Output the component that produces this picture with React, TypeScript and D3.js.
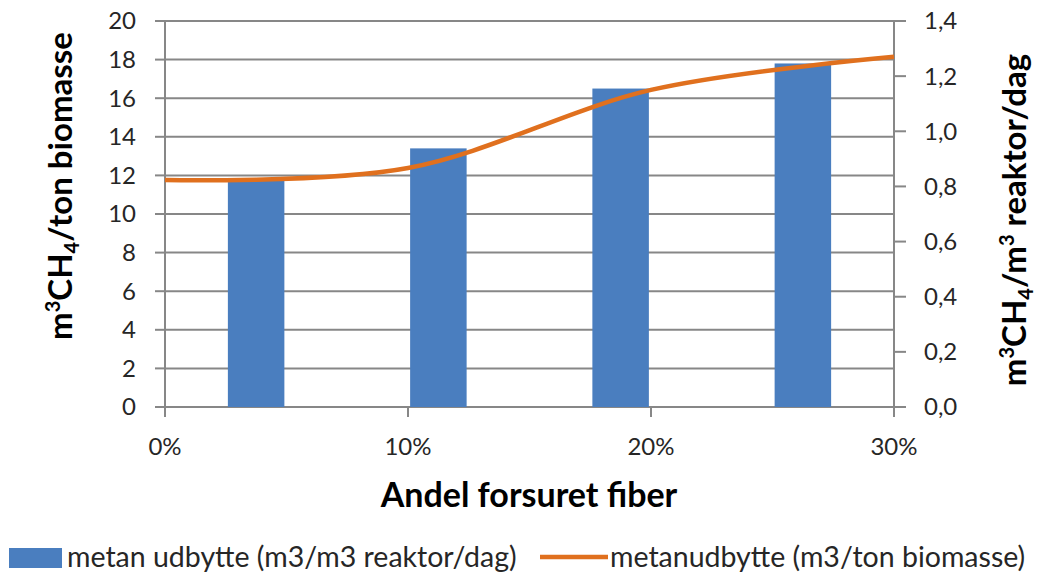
import React from "react";
import * as d3 from "d3";

// bars: methane yield per reactor volume, one per category slot
const barCategories = ["a", "b", "c", "d"];
const barValues = [11.8, 13.4, 16.5, 17.8];

// line: methane yield per ton biomass, on the percentage axis
const lineShares = [0, 0.1, 0.2, 0.3];
const lineValues = [0.823, 0.867, 1.15, 1.27];

const leftTicks = [0, 2, 4, 6, 8, 10, 12, 14, 16, 18, 20];
const rightTicks = [0, 0.2, 0.4, 0.6, 0.8, 1.0, 1.2, 1.4];
const xTicks = [0, 0.1, 0.2, 0.3];

const barLabel = "metan udbytte (m3/m3 reaktor/dag)";
const lineLabel = "metanudbytte (m3/ton biomasse)";
const xTitle = "Andel forsuret fiber";

const W = 1037;
const H = 572;
const font = "Lato, Carlito, 'Liberation Sans', sans-serif";
const blue = "#4A7EBF";
const orange = "#E0701E";
const grid = "#878787";
const textColor = "#262626";

export default function App() {
  const left = 165;
  const right = 894;
  const top = 21;
  const bottom = 407;

  const yLeft = d3.scaleLinear().domain([0, 20]).range([bottom, top]);
  const yRight = d3.scaleLinear().domain([0, 1.4]).range([bottom, top]);
  const xBand = d3
    .scaleBand()
    .domain(barCategories)
    .range([left, right])
    .paddingInner(0.69)
    .paddingOuter(0.345);
  const xLin = d3.scaleLinear().domain([0, 0.3]).range([left, right]);

  const line = d3
    .line<number>()
    .x((_, i) => xLin(lineShares[i]))
    .y((d) => yRight(d))
    .curve(d3.curveCatmullRom.alpha(0));

  const fmtPct = d3.format(".0%");
  const fmtRight = (v: number) => v.toFixed(1).replace(".", ",");

  return (
    <svg
      width={W}
      height={H}
      style={{ position: "absolute", left: 0, top: 0, background: "#fff" }}
      fontFamily={font}
    >
      {/* gridlines */}
      {leftTicks.map((t) => (
        <line key={"g" + t} x1={left} x2={right} y1={yLeft(t)} y2={yLeft(t)} stroke={grid} strokeWidth={2} />
      ))}

      {/* axes */}
      <line x1={left} x2={left} y1={top} y2={bottom} stroke={grid} strokeWidth={2} />
      <line x1={right} x2={right} y1={top} y2={bottom} stroke={grid} strokeWidth={2} />
      {leftTicks.map((t) => (
        <g key={"l" + t}>
          <line x1={left - 10} x2={left} y1={yLeft(t)} y2={yLeft(t)} stroke={grid} strokeWidth={2} />
          <text x={136} y={yLeft(t)} dy="0.35em" textAnchor="end" fontSize={24} fill={textColor}>
            {t}
          </text>
        </g>
      ))}
      {rightTicks.map((t) => (
        <g key={"r" + t}>
          <line x1={right} x2={right + 12} y1={yRight(t)} y2={yRight(t)} stroke={grid} strokeWidth={2} />
          <text x={924} y={yRight(t)} dy="0.35em" textAnchor="start" fontSize={24} fill={textColor}>
            {fmtRight(t)}
          </text>
        </g>
      ))}
      {xTicks.map((t) => (
        <g key={"x" + t}>
          <line x1={xLin(t)} x2={xLin(t)} y1={bottom} y2={bottom + 10} stroke={grid} strokeWidth={2} />
          <text x={xLin(t)} y={447} dy="0.35em" textAnchor="middle" fontSize={24} fill={textColor}>
            {fmtPct(t)}
          </text>
        </g>
      ))}

      {/* bars */}
      {barValues.map((v, i) => (
        <rect
          key={"b" + i}
          x={xBand(barCategories[i])}
          y={yLeft(v)}
          width={xBand.bandwidth()}
          height={bottom - yLeft(v)}
          fill={blue}
        />
      ))}

      {/* smoothed line */}
      <path d={line(lineValues) || ""} fill="none" stroke={orange} strokeWidth={4.5} />

      {/* axis titles */}
      <text
        transform={`translate(72, 186) rotate(-90)`}
        textAnchor="middle"
        fontSize={33}
        fontWeight="bold"
        fill="#000"
      >
        m<tspan fontSize={20} dy={-12}>3</tspan>
        <tspan dy={12}>CH</tspan>
        <tspan fontSize={20} dy={7}>4</tspan>
        <tspan dy={-7}>/ton biomasse</tspan>
      </text>
      <text
        transform={`translate(1026, 220) rotate(-90)`}
        textAnchor="middle"
        fontSize={33}
        fontWeight="bold"
        fill="#000"
      >
        m<tspan fontSize={20} dy={-12}>3</tspan>
        <tspan dy={12}>CH</tspan>
        <tspan fontSize={20} dy={7}>4</tspan>
        <tspan dy={-7}>/m</tspan>
        <tspan fontSize={20} dy={-12}>3</tspan>
        <tspan dy={12}> reaktor/dag</tspan>
      </text>
      <text x={529} y={495} dy="0.35em" textAnchor="middle" fontSize={34} fontWeight="bold" fill="#000">
        {xTitle}
      </text>

      {/* legend */}
      <rect x={9} y={548} width={53} height={20} fill={blue} />
      <text x={67} y={557} dy="0.35em" fontSize={28.5} fill={textColor}>
        {barLabel}
      </text>
      <line x1={540} x2={608} y1={557} y2={557} stroke={orange} strokeWidth={4.5} />
      <text x={610} y={557} dy="0.35em" fontSize={28.5} fill={textColor}>
        {lineLabel}
      </text>
    </svg>
  );
}
